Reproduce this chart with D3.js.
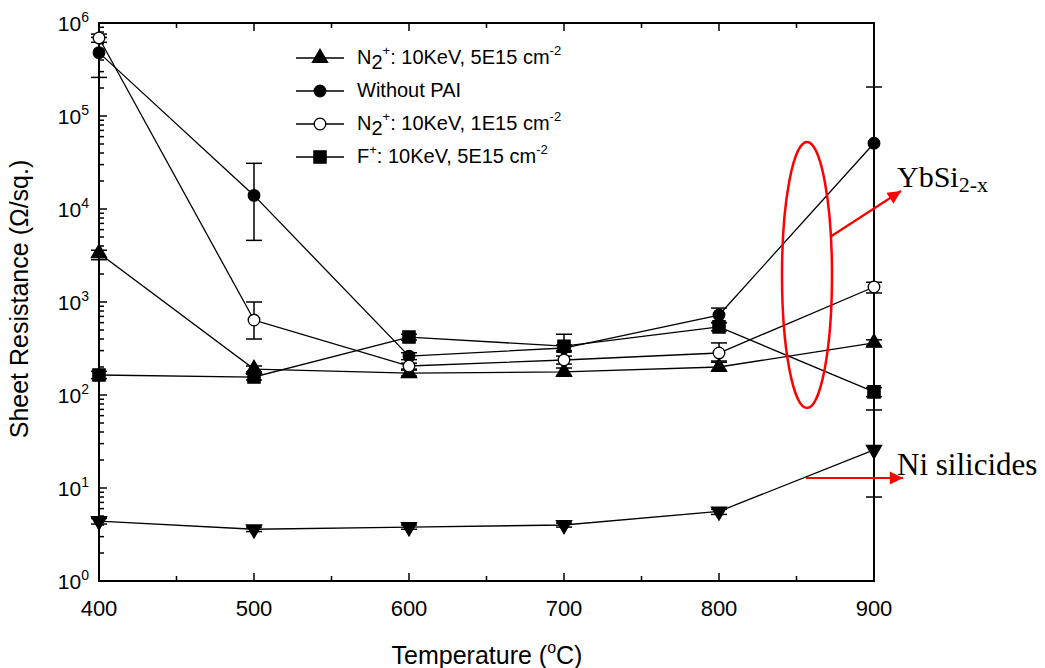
<!DOCTYPE html>
<html><head><meta charset="utf-8">
<script src="https://cdn.jsdelivr.net/npm/d3@7"></script>
<style>body{margin:0;background:#fff}svg{display:block}</style>
</head><body>
<svg id="c" width="1045" height="668"></svg>
<script>
// ---- data ----
const temps = [400, 500, 600, 700, 800, 900];
const xTicks = [400, 500, 600, 700, 800, 900];
const yExponents = [0, 1, 2, 3, 4, 5, 6];

const n2High = [3350, 190, 172, 177, 200, 364];          // N2+ 10KeV 5E15 (triangle up)
const n2HighLo = [2850, 178, 160, 162, 182, 335];
const n2HighHi = [3600, 205, 185, 195, 225, 392];

const noPAI = [480000, 14000, 262, 320, 724, 51000];     // Without PAI (filled circle)
const noPAILo = [260000, 4600, 240, 300, 600, 0.5];
const noPAIHi = [700000, 31000, 285, 345, 860, 205000];

const n2Low = [690000, 640, 205, 238, 283, 1450];        // N2+ 10KeV 1E15 (open circle)
const n2LowLo = [620000, 400, 190, 215, 232, 1250];
const n2LowHi = [760000, 1000, 220, 262, 363, 1630];

const fPlus = [164, 156, 420, 335, 540, 108];            // F+ 10KeV 5E15 (square)
const fPlusLo = [150, 145, 390, 290, 490, 96];
const fPlusHi = [180, 168, 450, 450, 600, 120];

const niSil = [4.4, 3.6, 3.8, 4.0, 5.6, 25.7];           // Ni silicides (triangle down)
const niSilLo = [4.1, 3.4, 3.6, 3.8, 5.2, 8];
const niSilHi = [4.7, 3.8, 4.0, 4.2, 5.9, 69];

const legendLabels = [
  {main:"N", sub:"2", sup:"+", rest:": 10KeV, 5E15 cm", tail:"-2", sym:"triUp"},
  {main:"Without PAI", sym:"circle"},
  {main:"N", sub:"2", sup:"+", rest:": 10KeV, 1E15 cm", tail:"-2", sym:"open"},
  {main:"F", sup:"+", rest:": 10KeV, 5E15 cm", tail:"-2", sym:"square"}
];

// ---- setup ----
const svg = d3.select("#c");
const L = 99, R = 874, T = 23, B = 581;
const x = d3.scaleLinear().domain([400, 900]).range([L, R]);
const y = d3.scaleLog().domain([1, 1e6]).range([B, T]).clamp(true);

const series = [
  {v: n2High, lo: n2HighLo, hi: n2HighHi, sym: "triUp"},
  {v: noPAI, lo: noPAILo, hi: noPAIHi, sym: "circle"},
  {v: n2Low, lo: n2LowLo, hi: n2LowHi, sym: "open"},
  {v: fPlus, lo: fPlusLo, hi: fPlusHi, sym: "square"},
  {v: niSil, lo: niSilLo, hi: niSilHi, sym: "triDown"}
];

function symPath(s) {
  if (s === "triUp" || s === "triDown") return d3.symbol().type(d3.symbolTriangle).size(100)();
  if (s === "square") return d3.symbol().type(d3.symbolSquare).size(150)();
  return d3.symbol().type(d3.symbolCircle).size(105)();
}
function drawSym(g, s, cx, cy) {
  g.append("path").attr("d", symPath(s))
    .attr("transform", `translate(${cx},${cy})` + (s === "triDown" ? " rotate(180)" : ""))
    .attr("fill", s === "open" ? "#fff" : "#000")
    .attr("stroke", "#000").attr("stroke-width", 1.3);
}

// ---- axes frame ----
const ax = svg.append("g").attr("stroke", "#000").attr("stroke-width", 2).attr("fill", "none");
ax.append("rect").attr("x", L).attr("y", T).attr("width", R - L).attr("height", B - T);

// x ticks (bottom & top, inward)
const xMinor = d3.range(450, 900, 100);
const tk = svg.append("g").attr("stroke", "#000").attr("stroke-width", 1.5);
xTicks.forEach(t => {
  tk.append("line").attr("x1", x(t)).attr("x2", x(t)).attr("y1", B).attr("y2", B - 8);
  tk.append("line").attr("x1", x(t)).attr("x2", x(t)).attr("y1", T).attr("y2", T + 8);
});
xMinor.forEach(t => {
  tk.append("line").attr("x1", x(t)).attr("x2", x(t)).attr("y1", B).attr("y2", B - 5);
  tk.append("line").attr("x1", x(t)).attr("x2", x(t)).attr("y1", T).attr("y2", T + 5);
});
// y ticks (left, inward)
yExponents.forEach(e => {
  const v = Math.pow(10, e);
  tk.append("line").attr("x1", L).attr("x2", L + 8).attr("y1", y(v)).attr("y2", y(v));
  if (e < 6) d3.range(2, 10).forEach(m => {
    const mv = m * v;
    tk.append("line").attr("x1", L).attr("x2", L + 5).attr("y1", y(mv)).attr("y2", y(mv));
  });
});

// tick labels
const font = "Arial, 'Liberation Sans', sans-serif";
xTicks.forEach(t => {
  svg.append("text").attr("x", x(t)).attr("y", 616).attr("text-anchor", "middle")
    .attr("font-family", font).attr("font-size", 22).text(t);
});
yExponents.forEach(e => {
  const tx = svg.append("text").attr("x", 89).attr("y", y(Math.pow(10, e)) + 8)
    .attr("text-anchor", "end").attr("font-family", font).attr("font-size", 21);
  tx.append("tspan").text("10");
  tx.append("tspan").attr("dy", -9).attr("font-size", 14).text(e);
});

// axis titles
const yt = svg.append("text").attr("transform", "translate(28,299) rotate(-90)")
  .attr("text-anchor", "middle").attr("font-family", font).attr("font-size", 25);
yt.text("Sheet Resistance (Ω/sq.)");
const xt = svg.append("text").attr("x", 487).attr("y", 664).attr("text-anchor", "middle")
  .attr("font-family", font).attr("font-size", 25);
xt.append("tspan").text("Temperature (");
xt.append("tspan").attr("dy", -11).attr("font-size", 16).text("o");
xt.append("tspan").attr("dy", 11).text("C)");

// ---- data lines ----
const line = d3.line().x((d, i) => x(temps[i])).y(d => y(d));
const dg = svg.append("g");
series.forEach(s => {
  dg.append("path").attr("d", line(s.v)).attr("fill", "none").attr("stroke", "#000").attr("stroke-width", 1.3);
});
// error bars
series.forEach(s => {
  temps.forEach((t, i) => {
    const cx = x(t), y1 = y(s.lo[i]), y2 = y(s.hi[i]);
    dg.append("line").attr("x1", cx).attr("x2", cx).attr("y1", y1).attr("y2", y2).attr("stroke", "#000").attr("stroke-width", 1.5);
    [s.lo[i], s.hi[i]].forEach(b => {
      if (b >= 1) dg.append("line").attr("x1", cx - 8).attr("x2", cx + 8).attr("y1", y(b)).attr("y2", y(b)).attr("stroke", "#000").attr("stroke-width", 1.5);
    });
  });
});
// markers
series.forEach(s => {
  temps.forEach((t, i) => drawSym(dg, s.sym, x(t), y(s.v[i])));
});

// ---- legend ----
const lg = svg.append("g");
legendLabels.forEach((d, i) => {
  const ly = 58 + i * 33;
  lg.append("line").attr("x1", 296).attr("x2", 344).attr("y1", ly).attr("y2", ly).attr("stroke", "#000").attr("stroke-width", 1.3);
  drawSym(lg, d.sym, 320, ly);
  const tx = lg.append("text").attr("x", 357).attr("y", ly + 6).attr("font-family", font).attr("font-size", 20);
  tx.append("tspan").text(d.main);
  if (d.sub) tx.append("tspan").attr("dy", 5).text(d.sub);
  if (d.sup) tx.append("tspan").attr("dy", d.sub ? -14 : -9).attr("font-size", 13).text(d.sup);
  if (d.rest) tx.append("tspan").attr("dy", 9).text(d.rest);
  if (d.tail) tx.append("tspan").attr("dy", -9).attr("font-size", 13).text(d.tail);
});

// ---- annotations ----
const defs = svg.append("defs");
defs.append("marker").attr("id", "arr").attr("viewBox", "0 0 10 10").attr("refX", 10).attr("refY", 5)
  .attr("markerWidth", 7).attr("markerHeight", 6).attr("markerUnits", "strokeWidth").attr("orient", "auto")
  .append("path").attr("d", "M0,0 L10,5 L0,10 Z").attr("fill", "#f00");
svg.append("ellipse").attr("cx", 807).attr("cy", 275).attr("rx", 25).attr("ry", 133)
  .attr("fill", "none").attr("stroke", "#f00").attr("stroke-width", 2.5);
svg.append("line").attr("x1", 830).attr("y1", 237).attr("x2", 901).attr("y2", 191)
  .attr("stroke", "#f00").attr("stroke-width", 2.2).attr("marker-end", "url(#arr)");
svg.append("line").attr("x1", 806).attr("y1", 478).attr("x2", 903).attr("y2", 478)
  .attr("stroke", "#f00").attr("stroke-width", 2.2).attr("marker-end", "url(#arr)");
const serif = "'Liberation Serif', 'Times New Roman', serif";
const yb = svg.append("text").attr("x", 897).attr("y", 187).attr("font-family", serif).attr("font-size", 30);
yb.append("tspan").text("YbSi");
yb.append("tspan").attr("dy", 5).attr("font-size", 22).text("2-x");
svg.append("text").attr("x", 897).attr("y", 475).attr("font-family", serif).attr("font-size", 31).text("Ni silicides");
</script>
</body></html>
